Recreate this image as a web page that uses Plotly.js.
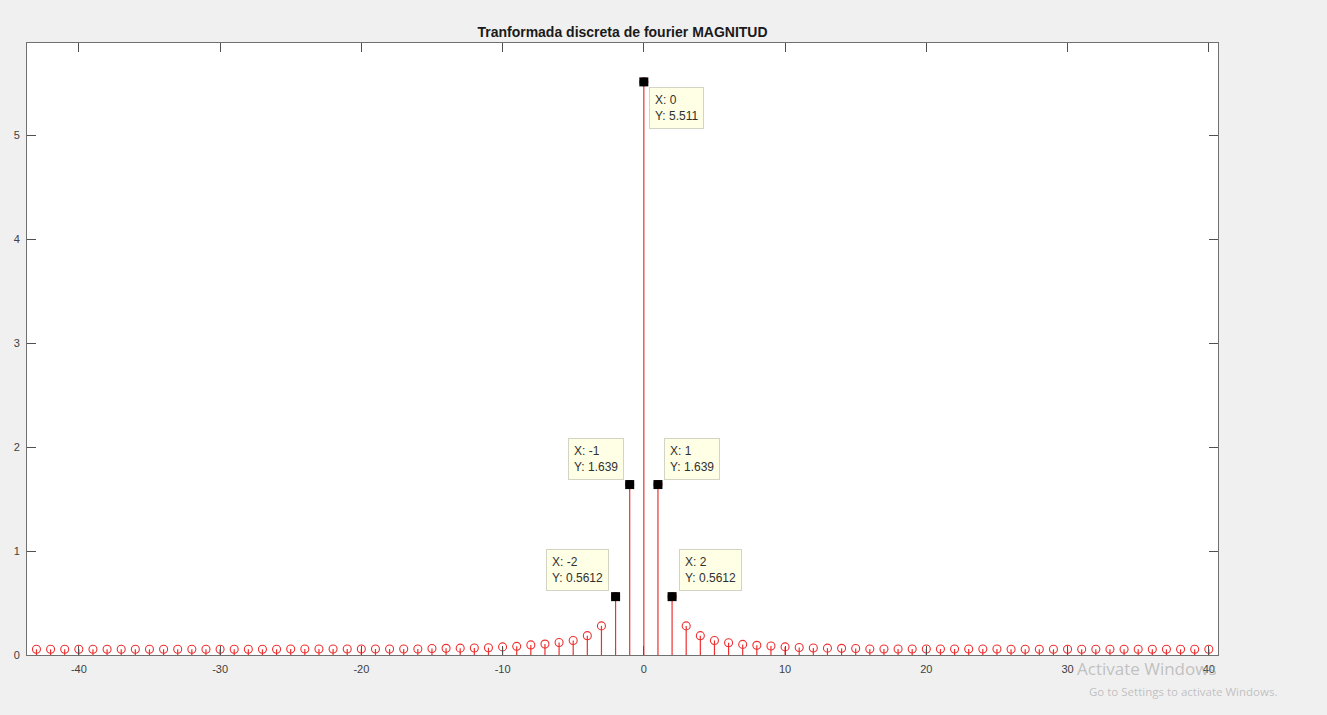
<!DOCTYPE html>
<html>
<head>
<meta charset="utf-8">
<script src="https://cdn.plot.ly/plotly-3.0.1.min.js"></script>
<style>
  html, body { margin: 0; padding: 0; background: #f0f0f0; }
  #chart { width: 1327px; height: 715px; }
</style>
</head>
<body>
<div id="chart"></div>
<script>
// Frequency index k
const kValues = [];
for (let k = -43; k <= 40; k++) kValues.push(k);

// |X[k]| (k = -43 ... 40)
const magnitudes = [
  0.055, 0.055, 0.055, 0.055, 0.055, 0.055, 0.055, 0.055, 0.055, 0.055,   // -43..-34
  0.055, 0.055, 0.055, 0.055, 0.055, 0.055, 0.055, 0.055,                 // -33..-26
  0.058, 0.058, 0.058, 0.058, 0.058, 0.058, 0.058, 0.058, 0.058, 0.058,   // -25..-16
  0.062, 0.064, 0.066, 0.068,                                             // -15..-12
  0.070, 0.078, 0.083, 0.097, 0.105, 0.120, 0.140, 0.186, 0.280,          // -11..-3
  0.5612, 1.639, 5.511, 1.639, 0.5612,                                    // -2..2
  0.280, 0.186, 0.140, 0.118, 0.102, 0.093, 0.087, 0.078, 0.072,          // 3..11
  0.068, 0.066, 0.064, 0.062,                                             // 12..15
  0.058, 0.058, 0.058, 0.058, 0.058, 0.058, 0.058, 0.058, 0.058, 0.058,   // 16..25
  0.055, 0.055, 0.055, 0.055, 0.055, 0.055, 0.055, 0.055, 0.055, 0.055,   // 26..35
  0.055, 0.055, 0.055, 0.055, 0.055                                       // 36..40
];

// Data tips shown on the figure
const tipK = [-2, -1, 0, 1, 2];

const xTicks = [-40, -30, -20, -10, 0, 10, 20, 30, 40];
const yTicks = [0, 1, 2, 3, 4, 5];

const titleText = 'Tranformada discreta de fourier MAGNITUD';

const tipY = tipK.map(k => magnitudes[kValues.indexOf(k)]);

const stemColor = '#ee3030';

const traces = [
  {
    type: 'scatter', mode: 'markers',
    x: kValues, y: magnitudes,
    marker: { symbol: 'circle-open', size: 8, color: stemColor, line: { width: 1.1, color: stemColor } },
    error_y: {
      type: 'data', symmetric: false,
      array: magnitudes.map(() => 0),
      arrayminus: magnitudes,
      color: stemColor, thickness: 1.2, width: 0
    },
    hoverinfo: 'x+y', showlegend: false
  },
  {
    type: 'scatter', mode: 'markers',
    x: tipK, y: tipY,
    marker: { symbol: 'square', size: 9, color: '#000000' },
    hoverinfo: 'x+y', showlegend: false
  }
];

// placement of each data-tip box relative to its point
const tipPlacement = {
  '-2': { xanchor: 'right', yanchor: 'bottom', xshift: -7, yshift: 6 },
  '-1': { xanchor: 'right', yanchor: 'bottom', xshift: -6, yshift: 5 },
  '0':  { xanchor: 'left',  yanchor: 'top',    xshift: 5,  yshift: -5 },
  '1':  { xanchor: 'left',  yanchor: 'bottom', xshift: 6,  yshift: 5 },
  '2':  { xanchor: 'left',  yanchor: 'bottom', xshift: 7,  yshift: 6 }
};

function fmt(v) { return String(Number(v.toPrecision(4))); }

const annotations = tipK.map((k, i) => Object.assign({
  x: k, y: tipY[i], xref: 'x', yref: 'y',
  text: 'X: ' + k + '<br>Y: ' + fmt(tipY[i]),
  showarrow: false, align: 'left',
  bgcolor: '#ffffe6', bordercolor: '#d4d4c4', borderwidth: 1, borderpad: 5,
  font: { family: 'Liberation Sans, Arial, sans-serif', size: 12, color: '#303030' }
}, tipPlacement[String(k)]));

// Windows activation watermark visible in the screenshot
annotations.push({
  xref: 'paper', yref: 'paper', x: 1.0, y: -0.022, xanchor: 'center', yanchor: 'middle',
  xshift: -71, text: 'Activate Windows', showarrow: false,
  font: { family: 'Open Sans, Noto Sans, sans-serif', size: 17, color: 'rgba(150,150,150,0.55)' }
});
annotations.push({
  xref: 'paper', yref: 'paper', x: 1.0, y: -0.06, xanchor: 'center', yanchor: 'middle',
  xshift: -35, text: 'Go to Settings to activate Windows.', showarrow: false,
  font: { family: 'Open Sans, Noto Sans, sans-serif', size: 11.5, color: 'rgba(150,150,150,0.55)' }
});

const axisCommon = {
  showgrid: false, zeroline: false,
  showline: true, linecolor: '#707070', linewidth: 1, mirror: 'ticks',
  ticks: 'inside', ticklen: 9, tickwidth: 1, tickcolor: '#505050',
  tickfont: { family: 'Liberation Sans, Arial, sans-serif', size: 11, color: '#404040' }
};

const layout = {
  width: 1327, height: 715,
  paper_bgcolor: '#f0f0f0', plot_bgcolor: '#ffffff',
  margin: { l: 27, r: 109, t: 43, b: 60 },
  title: {
    text: '<b>' + titleText + '</b>',
    font: { family: 'Liberation Sans, Arial, sans-serif', size: 14, color: '#1a1a1a' },
    x: 0.5, xref: 'paper', xanchor: 'center',
    y: 1, yref: 'paper', yanchor: 'bottom', pad: { b: 6 }
  },
  xaxis: Object.assign({}, axisCommon, {
    range: [-43.67, 40.65], tickvals: xTicks, ticktext: xTicks.map(String),
    ticklabelstandoff: 4
  }),
  yaxis: Object.assign({}, axisCommon, {
    range: [0, 5.885], tickvals: yTicks, ticktext: yTicks.map(String),
    ticklabelstandoff: 4
  }),
  annotations: annotations,
  showlegend: false
};

Plotly.newPlot('chart', traces, layout, { displayModeBar: false, staticPlot: true });
</script>
</body>
</html>
